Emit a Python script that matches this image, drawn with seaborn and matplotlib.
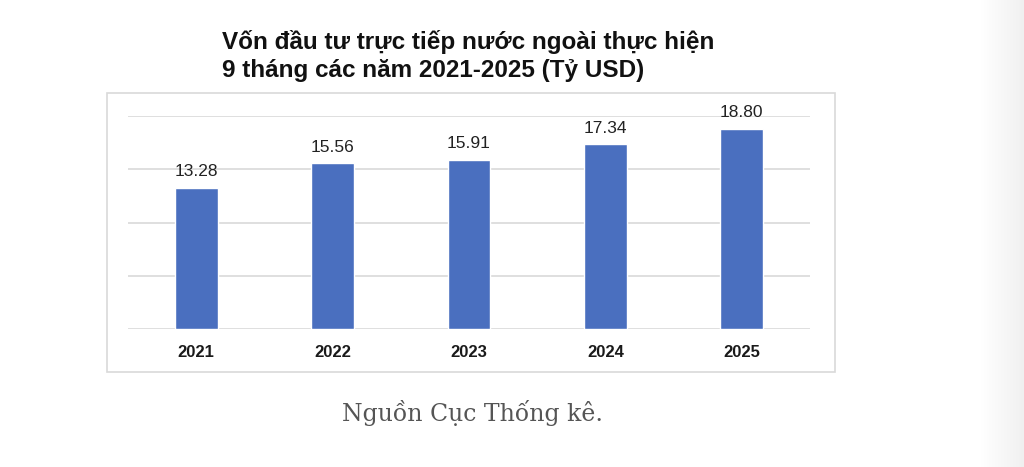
import numpy as np
import pandas as pd
import matplotlib
matplotlib.use("Agg")
import matplotlib.pyplot as plt
import seaborn as sns
from matplotlib.patches import Rectangle

# dati
anni = ["2021", "2022", "2023", "2024", "2025"]
valori = [13.28, 15.56, 15.91, 17.34, 18.80]
etichette = ["13.28", "15.56", "15.91", "17.34", "18.80"]
titolo = ["Vốn đầu tư trực tiếp nước ngoài thực hiện",
          "9 tháng các năm 2021-2025 (Tỷ USD)"]

df = pd.DataFrame({"Nam": anni, "Von": valori})

sns.set_style("white")
plt.rcParams["font.family"] = ["Liberation Sans", "DejaVu Sans"]

fig = plt.figure(figsize=(10.24, 4.67), dpi=100)

# cornice del grafico
fig.patches.append(Rectangle((107 / 1024, 1 - 372 / 467), 728 / 1024, 279 / 467,
                             transform=fig.transFigure, fill=False,
                             edgecolor="#d9d9d9", linewidth=1.2))

ax = fig.add_axes([128 / 1024, 1 - 329 / 467, 682 / 1024, 213 / 467])
sns.barplot(data=df, x="Nam", y="Von", color="#4a6fbf", width=0.315,
            saturation=1, ax=ax, zorder=3)

ax.set_ylim(0, 20)
ax.set_xlim(-0.5, 4.5)
ax.set_yticks([0, 5, 10, 15, 20])
ax.yaxis.grid(True, color="#d9d9d9", linewidth=1.2, zorder=0)
ax.set_axisbelow(True)
ax.tick_params(axis="y", left=False, labelleft=False)
ax.tick_params(axis="x", bottom=False, pad=8)
for lab in ax.get_xticklabels():
    lab.set_fontweight("bold")
    lab.set_fontsize(12)
    lab.set_color("#1a1a1a")
ax.set_xlabel("")
ax.set_ylabel("")
for s in ax.spines.values():
    s.set_visible(False)

for i, (v, t) in enumerate(zip(valori, etichette)):
    ax.annotate(t, (i, v), xytext=(0, 6), textcoords="offset points",
                ha="center", va="bottom", fontsize=12.5, color="#222222")

# titolo su due righe
for riga, yb in zip(titolo, [49, 77]):
    fig.text(222 / 1024, 1 - yb / 467, riga, ha="left", va="baseline",
             fontsize=17.5, fontweight="bold", color="#111111")

fig.text(472 / 1024, 1 - 413 / 467, "Nguồn Cục Thống kê.",
         ha="center", va="center", fontsize=17,
         family=["DejaVu Serif"], color="#555555")

# ombra a destra
grad = np.linspace(0, 1, 64).reshape(1, -1)
axg = fig.add_axes([980 / 1024, 0, 44 / 1024, 1])
axg.imshow(grad, aspect="auto", cmap="Greys", vmin=0, vmax=8, extent=[0, 1, 0, 1])
axg.axis("off")

fig.savefig("out.png", dpi=100)
